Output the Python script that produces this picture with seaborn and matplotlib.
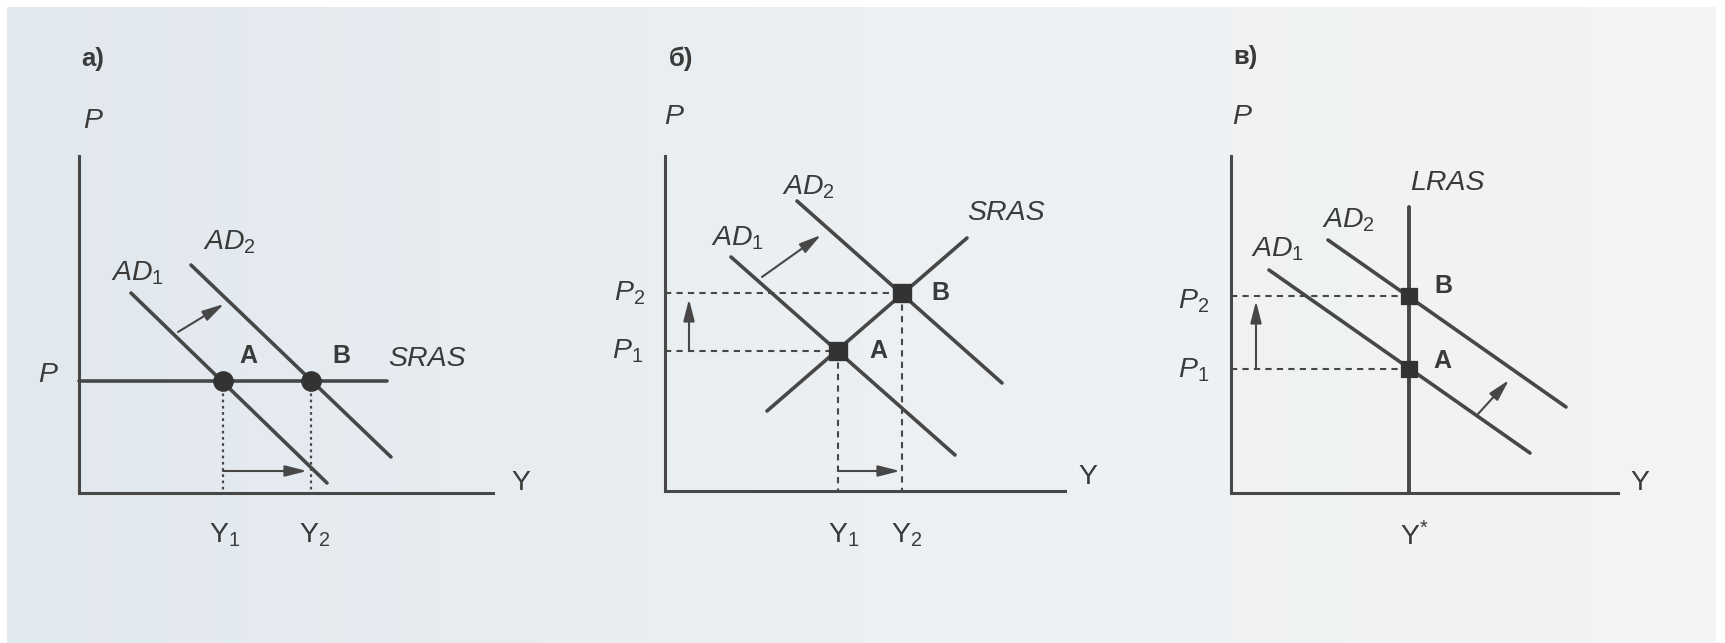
import numpy as np
import matplotlib
matplotlib.use("Agg")
import matplotlib.pyplot as plt
from matplotlib.colors import LinearSegmentedColormap
import seaborn as sns

# Values are in abstract units (1 unit ~ 4 px, origin at the axes corner)

# --- panel a): horizontal SRAS ---
a_p = 28
a_sras_y = [0, 77]
a_ad1_y = [13, 62]
a_ad1_p = [50, 2.5]
a_ad2_y = [28, 78]
a_ad2_p = [57, 9]
a_eq_y = [36, 58]          # Y1, Y2
a_shift_y = [24.75, 36.25]
a_shift_p = [40.25, 47.25]
a_arrow_y = [36, 57]
a_arrow_p = 5.5

# --- panel б): upward sloping SRAS ---
b_sras_y = [25.5, 75.5]
b_sras_p = [20, 63.25]
b_ad1_y = [16.5, 72.5]
b_ad1_p = [58.5, 9]
b_ad2_y = [33, 84.25]
b_ad2_p = [72.5, 27]
b_eq_y = [43.25, 59.25]    # Y1, Y2
b_eq_p = [35, 49.5]        # P1, P2
b_shift_y = [24.25, 39]
b_shift_p = [53.5, 64]
b_varrow_y = 6
b_varrow_p = [35, 48]
b_harrow_y = [43.25, 58.75]
b_harrow_p = 5

# --- panel в): vertical LRAS ---
c_lras_y = 44.5
c_lras_p = [0, 71.5]
c_ad1_y = [9.5, 74.75]
c_ad1_p = [55.75, 10]
c_ad2_y = [24.25, 83.75]
c_ad2_p = [63.25, 21.5]
c_eq_p = [31, 49.25]       # P1, P2
c_shift_y = [61.75, 69.5]
c_shift_p = [19.75, 28.25]
c_varrow_y = 6.25
c_varrow_p = [31, 48]

W, H = 1725, 643
LINE = "#474747"
TEXT = "#3a3a3a"
FS = 20.5

sns.set_theme(style="white")
plt.rcParams["font.family"] = ["Liberation Sans", "DejaVu Sans"]
plt.rcParams["mathtext.fontset"] = "custom"
plt.rcParams["mathtext.it"] = "Liberation Sans:italic"
plt.rcParams["mathtext.rm"] = "Liberation Sans"
plt.rcParams["mathtext.bf"] = "Liberation Sans:bold"

fig = plt.figure(figsize=(W / 100, H / 100), dpi=100, facecolor="white")

# scanned paper background
bg = fig.add_axes([7 / W, 0, (1716 - 7) / W, (H - 7) / H], zorder=-5)
paper = LinearSegmentedColormap.from_list("paper", ["#e1e8ee", "#ecf0f3", "#f3f4f4"])
bg.imshow(np.linspace(0, 1, 256)[None, :], aspect="auto", cmap=paper, extent=[0, 1, 0, 1])
bg.axis("off")


def make_axes(ox, oy, w, h):
    ax = fig.add_axes([ox / W, (H - oy) / H, w / W, h / H])
    ax.set_xlim(0, w / 4)
    ax.set_ylim(0, h / 4)
    ax.patch.set_alpha(0)
    sns.despine(ax=ax)
    for s in ["left", "bottom"]:
        ax.spines[s].set_color(LINE)
        ax.spines[s].set_linewidth(2.2)
    ax.set_xticks([])
    ax.set_yticks([])
    return ax


def line(ax, xs, ys, lw=2.6, ls="-"):
    sns.lineplot(x=xs, y=ys, ax=ax, sort=False, estimator=None, color=LINE,
                 linewidth=lw, linestyle=ls, clip_on=False)


def arrow(ax, xs, ys):
    ax.annotate("", xy=(xs[1], ys[1]), xytext=(xs[0], ys[0]),
                arrowprops=dict(arrowstyle="-|>,head_length=1.1,head_width=0.28",
                                color=LINE, lw=1.5, shrinkA=0, shrinkB=0),
                annotation_clip=False)


def label(ax, x, y, s, size=FS, weight="normal", style="normal"):
    ax.text(x, y, s, ha="center", va="center", fontsize=size, color=TEXT,
            fontweight=weight, fontstyle=style, clip_on=False)


def points(ax, xs, ys, marker, size):
    sns.scatterplot(x=xs, y=ys, ax=ax, marker=marker, s=size, color="#333333",
                    edgecolor="#333333", zorder=5, clip_on=False)


# ---------------- a) ----------------
ax = make_axes(79, 493, 414, 337)
line(ax, a_sras_y, [a_p, a_p])
line(ax, a_ad1_y, a_ad1_p)
line(ax, a_ad2_y, a_ad2_p)
for y in a_eq_y:
    line(ax, [y, y], [a_p, 0], lw=1.6, ls=(0, (1.2, 1.6)))
points(ax, a_eq_y, [a_p, a_p], "o", 190)
arrow(ax, a_shift_y, a_shift_p)
arrow(ax, a_arrow_y, [a_arrow_p, a_arrow_p])
label(ax, 3.5, 108.5, "а)", size=18.5, weight="bold")
label(ax, 3.5, 93, "P", style="italic")
label(ax, 110.5, 2.5, "Y")
label(ax, -7.75, 29.5, "P", style="italic")
label(ax, 87, 33.5, "SRAS", style="italic")
label(ax, a_eq_y[0] + 6.25, 34.25, "A", size=18, weight="bold")
label(ax, a_eq_y[1] + 7.5, 34.25, "B", size=18, weight="bold")
label(ax, 14.75, 55, r"$AD_{\mathrm{1}}$")
label(ax, 37.5, 62.75, r"$AD_{\mathrm{2}}$")
label(ax, a_eq_y[0] + 0.5, -10.5, r"Y$_{\mathrm{1}}$")
label(ax, a_eq_y[1] + 1, -10.5, r"Y$_{\mathrm{2}}$")

# ---------------- б) ----------------
ax = make_axes(665, 491, 400, 335)
line(ax, b_sras_y, b_sras_p)
line(ax, b_ad1_y, b_ad1_p)
line(ax, b_ad2_y, b_ad2_p)
for y, p in zip(b_eq_y, b_eq_p):
    line(ax, [0, y], [p, p], lw=1.5, ls=(0, (3, 2.5)))
    line(ax, [y, y], [p, 0], lw=1.5, ls=(0, (3, 2.5)))
points(ax, b_eq_y, b_eq_p, "s", 150)
arrow(ax, b_shift_y, b_shift_p)
arrow(ax, [b_varrow_y, b_varrow_y], b_varrow_p)
arrow(ax, b_harrow_y, [b_harrow_p, b_harrow_p])
label(ax, 4, 108, "б)", size=18.5, weight="bold")
label(ax, 2.25, 93.5, "P", style="italic")
label(ax, 105.75, 3.5, "Y")
label(ax, -8.75, b_eq_p[1], r"$P_{\mathrm{2}}$")
label(ax, -9.25, b_eq_p[0], r"$P_{\mathrm{1}}$")
label(ax, 35.75, 76, r"$AD_{\mathrm{2}}$")
label(ax, 18.25, 63.25, r"$AD_{\mathrm{1}}$")
label(ax, 85.25, 69.5, "SRAS", style="italic")
label(ax, b_eq_y[1] + 9.5, b_eq_p[1], "B", size=18, weight="bold")
label(ax, b_eq_y[0] + 10, b_eq_p[0], "A", size=18, weight="bold")
label(ax, b_eq_y[0] + 1.5, -11, r"Y$_{\mathrm{1}}$")
label(ax, b_eq_y[1] + 1.25, -11, r"Y$_{\mathrm{2}}$")

# ---------------- в) ----------------
ax = make_axes(1231, 493, 387, 337)
line(ax, [c_lras_y, c_lras_y], c_lras_p, lw=2.8)
line(ax, c_ad1_y, c_ad1_p)
line(ax, c_ad2_y, c_ad2_p)
for p in c_eq_p:
    line(ax, [0, c_lras_y], [p, p], lw=1.5, ls=(0, (3, 2.5)))
points(ax, [c_lras_y, c_lras_y], c_eq_p, "s", 130)
arrow(ax, c_shift_y, c_shift_p)
arrow(ax, [c_varrow_y, c_varrow_y], c_varrow_p)
label(ax, 3.5, 109, "в)", size=18.5, weight="bold")
label(ax, 2.75, 94, "P", style="italic")
label(ax, 102.25, 2.5, "Y")
label(ax, 54, 77.5, "LRAS", style="italic")
label(ax, 29.25, 68.25, r"$AD_{\mathrm{2}}$")
label(ax, 11.75, 61, r"$AD_{\mathrm{1}}$")
label(ax, c_lras_y + 8.5, c_eq_p[1] + 2.5, "B", size=18, weight="bold")
label(ax, c_lras_y + 8.25, c_eq_p[0] + 2, "A", size=18, weight="bold")
label(ax, -9.25, c_eq_p[1] - 1.25, r"$P_{\mathrm{2}}$")
label(ax, -9.25, c_eq_p[0] - 0.25, r"$P_{\mathrm{1}}$")
label(ax, c_lras_y + 1.25, -11, r"Y$^{*}$")

fig.savefig("out.png", dpi=100, facecolor="white")
